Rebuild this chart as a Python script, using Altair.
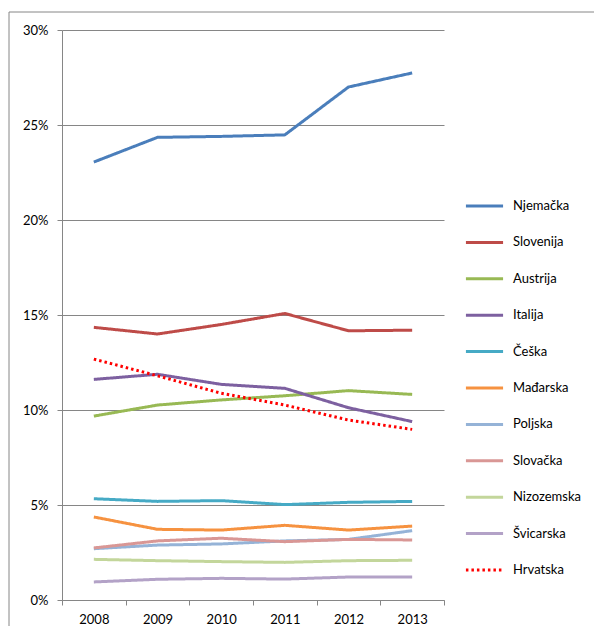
import altair as alt
import pandas as pd

years = ["2008", "2009", "2010", "2011", "2012", "2013"]
countries = ["Njemačka", "Slovenija", "Austrija", "Italija", "Češka", "Mađarska",
             "Poljska", "Slovačka", "Nizozemska", "Švicarska", "Hrvatska"]
colors = ["#4A7EBB", "#BE4B48", "#98B954", "#7D60A0", "#46AAC5", "#F69240",
          "#95B3D7", "#D99795", "#C3D69B", "#B3A2C7", "#FF0000"]
dashes = [[1, 0]] * 10 + [[2.5, 3]]

njemacka = [23.05, 24.35, 24.4, 24.48, 27.0, 27.74]
slovenija = [14.35, 14.0, 14.5, 15.08, 14.17, 14.2]
austrija = [9.68, 10.26, 10.53, 10.75, 11.02, 10.82]
italija = [11.61, 11.88, 11.35, 11.14, 10.12, 9.39]
ceska = [5.33, 5.19, 5.23, 5.02, 5.14, 5.19]
madarska = [4.37, 3.72, 3.68, 3.93, 3.68, 3.89]
poljska = [2.70, 2.89, 2.95, 3.11, 3.19, 3.65]
slovacka = [2.74, 3.11, 3.25, 3.07, 3.19, 3.16]
nizozemska = [2.14, 2.07, 2.02, 1.98, 2.07, 2.09]
svicarska = [0.95, 1.09, 1.14, 1.10, 1.21, 1.21]
hrvatska = [12.68, 11.8, 10.88, 10.26, 9.47, 8.98]

series = [njemacka, slovenija, austrija, italija, ceska, madarska,
          poljska, slovacka, nizozemska, svicarska, hrvatska]

rows = []
for i, (c, vals) in enumerate(zip(countries, series)):
    for y, v in zip(years, vals):
        rows.append({"Zemlja": c, "Godina": y, "Udio": v / 100, "red": i})
df = pd.DataFrame(rows)

FONT = "Lato"

legend_opts = dict(title=None, orient="none", legendX=402, legendY=155.5,
                   symbolType="stroke", symbolSize=1380,
                   symbolStrokeWidth=3, rowPadding=8.4,
                   labelFont=FONT, labelFontSize=13,
                   labelColor="#000000", labelOffset=8)

frame = alt.Chart(pd.DataFrame({"a": [0]})).mark_rect(
    fill=None, stroke="#868686", strokeWidth=1, clip=False
).encode(
    x=alt.value(-53), x2=alt.value(700), y=alt.value(-18), y2=alt.value(800)
)

lines = alt.Chart(df).mark_line(strokeWidth=3, strokeCap="butt").encode(
    x=alt.X("Godina:N", sort=years,
            scale=alt.Scale(type="band", paddingInner=0, paddingOuter=0),
            axis=alt.Axis(title=None, labelAngle=0, tickBand="extent",
                          tickSize=5, tickColor="#868686", domainColor="#868686",
                          labelFont=FONT, labelFontSize=13, labelColor="#000000",
                          labelPadding=8, grid=False)),
    y=alt.Y("Udio:Q",
            scale=alt.Scale(domain=[0, 0.3], nice=False, zero=True),
            axis=alt.Axis(title=None, format=".0%", values=[0, 0.05, 0.1, 0.15, 0.2, 0.25, 0.3],
                          tickSize=5, tickColor="#868686", domainColor="#868686",
                          gridColor="#868686", gridWidth=1,
                          labelFont=FONT, labelFontSize=13, labelColor="#000000",
                          labelPadding=9)),
    color=alt.Color("Zemlja:N",
                    scale=alt.Scale(domain=countries, range=colors),
                    legend=alt.Legend(**legend_opts)),
    strokeDash=alt.StrokeDash("Zemlja:N",
                              scale=alt.Scale(domain=countries, range=dashes),
                              legend=alt.Legend(**legend_opts)),
    order=alt.Order("red:Q"),
    detail="Zemlja:N",
)

chart = alt.layer(frame, lines).properties(
    width=382, height=570,
    autosize=alt.AutoSizeParams(type="none"),
    padding={"left": 54, "top": 22, "right": 150, "bottom": 26},
).configure_view(stroke=None).configure_axis(gridOpacity=1)

chart.save("out.html", embed_options={"renderer": "svg", "actions": False})
